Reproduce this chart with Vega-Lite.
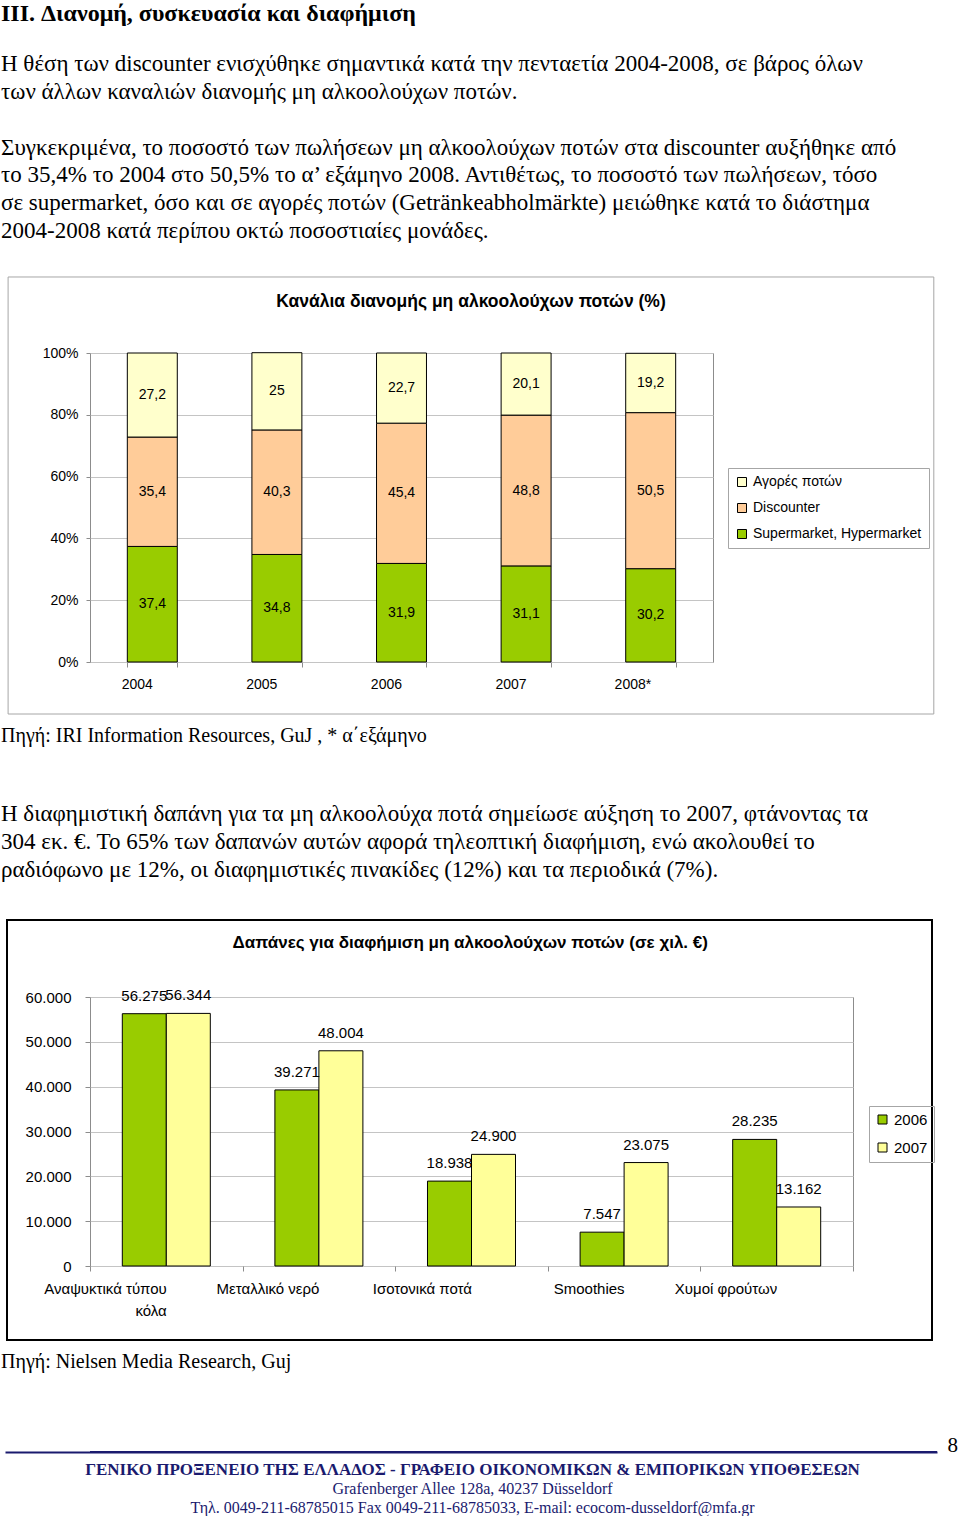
{
  "$schema": "https://vega.github.io/schema/vega-lite/v6.json",
  "background": "white",
  "padding": {"left": 1, "top": 2, "right": 0, "bottom": 0},
  "columns": 1,
  "spacing": 10,
  "resolve": {"scale": {"color": "independent", "x": "independent", "y": "independent", "xOffset": "independent"}, "legend": {"color": "independent"}},
  "config": {
    "locale": {"number": {"decimal": ",", "thousands": ".", "grouping": [3], "currency": ["", " €"]}},
    "font": "Liberation Sans",
    "view": {"stroke": "#8c8c8c"},
    "axis": {"labelFont": "Liberation Sans", "labelColor": "black", "tickColor": "#8c8c8c", "domainColor": "#8c8c8c", "gridColor": "#c4c4c4"},
    "title": {"color": "black", "subtitleColor": "black"}
  },
  "concat": [
    {
      "width": 853, "height": 22,
      "view": {"stroke": null},
      "data": {"values": []},
      "mark": "point",
      "title": {
        "text": "III. Διανομή, συσκευασία και διαφήμιση",
        "subtitle": [
          "Η θέση των discounter ενισχύθηκε σημαντικά κατά την πενταετία 2004-2008, σε βάρος όλων",
          "των άλλων καναλιών διανομής μη αλκοολούχων ποτών."
        ],
        "anchor": "start", "frame": "group", "offset": 0, "dx": -89,
        "font": "Liberation Serif", "fontSize": 24, "fontWeight": "bold",
        "subtitleFont": "Liberation Serif", "subtitleFontSize": 23, "subtitleLineHeight": 27.8, "subtitlePadding": 27
      }
    },
    {
      "width": 853, "height": 22,
      "view": {"stroke": null},
      "data": {"values": []},
      "mark": "point",
      "title": {
        "text": "Συγκεκριμένα, το ποσοστό των πωλήσεων μη αλκοολούχων ποτών στα discounter αυξήθηκε από",
        "subtitle": [
          "το 35,4% το 2004 στο 50,5% το α’ εξάμηνο 2008. Αντιθέτως, το ποσοστό των πωλήσεων, τόσο",
          "σε supermarket, όσο και σε αγορές ποτών (Getränkeabholmärkte) μειώθηκε κατά το διάστημα",
          "2004-2008 κατά περίπου οκτώ ποσοστιαίες μονάδες."
        ],
        "anchor": "start", "frame": "group", "offset": 0, "dx": -89,
        "font": "Liberation Serif", "fontSize": 23, "fontWeight": "normal",
        "subtitleFont": "Liberation Serif", "subtitleFontSize": 23, "subtitleLineHeight": 27.8, "subtitlePadding": 4.8
      }
    },
    {
      "width": 623, "height": 309,
      "title": {"text": "Κανάλια διανομής μη αλκοολούχων ποτών (%)", "font": "Liberation Sans", "fontSize": 17.5, "fontWeight": "bold", "offset": -34, "anchor": "middle", "frame": "bounds"},
      "data": {"values": [
        {"year": "2004", "channel": "Supermarket, Hypermarket", "share": 37.4},
        {"year": "2004", "channel": "Discounter", "share": 35.4},
        {"year": "2004", "channel": "Αγορές ποτών", "share": 27.2},
        {"year": "2005", "channel": "Supermarket, Hypermarket", "share": 34.8},
        {"year": "2005", "channel": "Discounter", "share": 40.3},
        {"year": "2005", "channel": "Αγορές ποτών", "share": 25},
        {"year": "2006", "channel": "Supermarket, Hypermarket", "share": 31.9},
        {"year": "2006", "channel": "Discounter", "share": 45.4},
        {"year": "2006", "channel": "Αγορές ποτών", "share": 22.7},
        {"year": "2007", "channel": "Supermarket, Hypermarket", "share": 31.1},
        {"year": "2007", "channel": "Discounter", "share": 48.8},
        {"year": "2007", "channel": "Αγορές ποτών", "share": 20.1},
        {"year": "2008*", "channel": "Supermarket, Hypermarket", "share": 30.2},
        {"year": "2008*", "channel": "Discounter", "share": 50.5},
        {"year": "2008*", "channel": "Αγορές ποτών", "share": 19.2}
      ]},
      "layer": [
        {
          "data": {"values": [{}]},
          "mark": {"type": "rect", "fill": "transparent", "stroke": "#a6a6a6", "strokeWidth": 1},
          "encoding": {
            "x": {"datum": "2004", "type": "ordinal", "bandPosition": -2.386, "scale": {"domain": ["2004", "2005", "2006", "2007", "2008*"]}},
            "x2": {"datum": "2008*", "bandPosition": 6.166},
            "y": {"datum": -16.83, "type": "quantitative", "scale": {"domain": [0, 100], "nice": false}},
            "y2": {"datum": 124.6}
          }
        },
        {
          "transform": [{"stack": "share", "groupby": ["year"], "as": ["lo", "hi"]}],
          "mark": {"type": "bar", "stroke": "black", "strokeWidth": 1},
          "encoding": {
            "x": {"field": "year", "type": "ordinal",
              "scale": {"domain": ["2004", "2005", "2006", "2007", "2008*"], "paddingInner": 0.599, "paddingOuter": 0.2995},
              "axis": {"title": null, "labelAngle": 0, "tickBand": "extent", "tickSize": 5, "labelPadding": 17, "labelFontSize": 14, "domain": false}},
            "y": {"field": "lo", "type": "quantitative",
              "scale": {"domain": [0, 100], "nice": false},
              "axis": {"values": [0, 10, 20, 30, 40, 50, 60, 70, 80, 90, 100], "labelExpr": "datum.value + '%'", "grid": true, "domain": false, "tickSize": 4, "labelPadding": 8, "labelFontSize": 14, "title": null}},
            "y2": {"field": "hi"},
            "color": {"field": "channel", "type": "nominal",
              "scale": {"domain": ["Αγορές ποτών", "Discounter", "Supermarket, Hypermarket"], "range": ["#FFFFCC", "#FFCC99", "#99CC00"]},
              "legend": {"orient": "none", "legendX": 638, "legendY": 115, "title": null, "strokeColor": "#a6a6a6", "padding": 7, "symbolType": "square", "symbolSize": 81, "symbolStrokeColor": "black", "symbolStrokeWidth": 1, "labelFontSize": 14, "labelFont": "Liberation Sans", "labelLimit": 300, "rowPadding": 12, "labelOffset": 4}}
          }
        },
        {
          "transform": [
            {"stack": "share", "groupby": ["year"], "as": ["lo", "hi"]},
            {"fold": ["lo", "hi"], "as": ["edge", "pos"]},
            {"aggregate": [{"op": "mean", "field": "pos", "as": "mid"}, {"op": "max", "field": "share", "as": "share"}], "groupby": ["year", "channel"]}
          ],
          "mark": {"type": "text", "fontSize": 14, "font": "Liberation Sans", "color": "black"},
          "encoding": {
            "x": {"field": "year", "type": "ordinal"},
            "y": {"field": "mid", "type": "quantitative", "scale": {"domain": [0, 100], "nice": false}},
            "text": {"field": "share", "type": "quantitative", "format": ".1~f"}
          }
        }
      ]
    },
    {
      "width": 853, "height": 26,
      "view": {"stroke": null},
      "data": {"values": []},
      "mark": "point",
      "title": {
        "text": "Πηγή: IRI Information Resources, GuJ , * α΄εξάμηνο",
        "subtitle": [
          "Η διαφημιστική δαπάνη για τα μη αλκοολούχα ποτά σημείωσε αύξηση το 2007, φτάνοντας τα",
          "304 εκ. €. Το 65% των δαπανών αυτών αφορά τηλεοπτική διαφήμιση, ενώ ακολουθεί το",
          "ραδιόφωνο με 12%, οι διαφημιστικές πινακίδες (12%) και τα περιοδικά (7%)."
        ],
        "anchor": "start", "frame": "group", "offset": 0, "dx": -89,
        "font": "Liberation Serif", "fontSize": 20, "fontWeight": "normal",
        "subtitleFont": "Liberation Serif", "subtitleFontSize": 23, "subtitleLineHeight": 28, "subtitlePadding": 57
      }
    },
    {
      "width": 763, "height": 269,
      "title": {"text": "Δαπάνες για διαφήμιση μη αλκοολούχων ποτών (σε χιλ. €)", "font": "Liberation Sans", "fontSize": 17, "fontWeight": "bold", "offset": -33, "anchor": "middle", "frame": "bounds"},
      "data": {"values": [
        {"category": "Αναψυκτικά τύπου κόλα", "year": "2006", "spend": 56275},
        {"category": "Αναψυκτικά τύπου κόλα", "year": "2007", "spend": 56344},
        {"category": "Μεταλλικό νερό", "year": "2006", "spend": 39271},
        {"category": "Μεταλλικό νερό", "year": "2007", "spend": 48004},
        {"category": "Ισοτονικά ποτά", "year": "2006", "spend": 18938},
        {"category": "Ισοτονικά ποτά", "year": "2007", "spend": 24900},
        {"category": "Smoothies", "year": "2006", "spend": 7547},
        {"category": "Smoothies", "year": "2007", "spend": 23075},
        {"category": "Χυμοί φρούτων", "year": "2006", "spend": 28235},
        {"category": "Χυμοί φρούτων", "year": "2007", "spend": 13162}
      ]},
      "layer": [
        {
          "data": {"values": [{}]},
          "mark": {"type": "rect", "fill": "transparent", "stroke": "black", "strokeWidth": 2},
          "encoding": {
            "x": {"datum": "Αναψυκτικά τύπου κόλα", "type": "nominal", "bandPosition": -0.5439, "scale": {"domain": ["Αναψυκτικά τύπου κόλα", "Μεταλλικό νερό", "Ισοτονικά ποτά", "Smoothies", "Χυμοί φρούτων"]}},
            "x2": {"datum": "Χυμοί φρούτων", "bandPosition": 1.5177},
            "y": {"datum": -16506, "type": "quantitative", "scale": {"domain": [0, 60000], "nice": false}},
            "y2": {"datum": 77175}
          }
        },
        {
          "mark": {"type": "bar", "stroke": "black", "strokeWidth": 1},
          "encoding": {
            "x": {"field": "category", "type": "nominal",
              "scale": {"domain": ["Αναψυκτικά τύπου κόλα", "Μεταλλικό νερό", "Ισοτονικά ποτά", "Smoothies", "Χυμοί φρούτων"], "paddingInner": 0, "paddingOuter": 0},
              "axis": {"title": null, "labelAngle": 0, "tickBand": "extent", "tickSize": 5, "labelPadding": 17, "labelFontSize": 15, "labelLineHeight": 22, "domain": false,
                "labelExpr": "datum.value == 'Αναψυκτικά τύπου κόλα' ? ['Αναψυκτικά τύπου', 'κόλα'] : datum.label"}},
            "xOffset": {"field": "year", "type": "nominal", "scale": {"domain": ["2006", "2007"], "paddingInner": 0, "paddingOuter": 0.734}},
            "y": {"field": "spend", "type": "quantitative",
              "scale": {"domain": [0, 60000], "nice": false},
              "axis": {"values": [0, 10000, 20000, 30000, 40000, 50000, 60000], "format": ",d", "grid": true, "domain": false, "tickSize": 5, "labelPadding": 14, "labelFontSize": 15, "title": null}},
            "color": {"field": "year", "type": "nominal",
              "scale": {"domain": ["2006", "2007"], "range": ["#99CC00", "#FFFF99"]},
              "legend": {"orient": "none", "legendX": 779, "legendY": 109, "title": null, "strokeColor": "#a6a6a6", "padding": 6, "symbolType": "square", "symbolSize": 81, "symbolStrokeColor": "black", "symbolStrokeWidth": 1, "labelFontSize": 15, "labelFont": "Liberation Sans", "rowPadding": 12, "labelOffset": 4}}
          }
        },
        {
          "mark": {"type": "text", "fontSize": 15, "font": "Liberation Sans", "color": "black", "baseline": "bottom", "dy": -10},
          "encoding": {
            "x": {"field": "category", "type": "nominal"},
            "xOffset": {"field": "year", "type": "nominal"},
            "y": {"field": "spend", "type": "quantitative", "scale": {"domain": [0, 60000], "nice": false}},
            "text": {"field": "spend", "type": "quantitative", "format": ",d"}
          }
        }
      ]
    },
    {
      "width": 853, "height": 52,
      "view": {"stroke": null},
      "data": {"values": []},
      "mark": "point",
      "title": {
        "text": "Πηγή: Nielsen Media Research, Guj",
        "anchor": "start", "frame": "group", "offset": 0, "dx": -89,
        "font": "Liberation Serif", "fontSize": 20, "fontWeight": "normal"
      }
    },
    {
      "width": 847, "height": 2,
      "view": {"stroke": null},
      "data": {"values": [{"page": "8"}]},
      "mark": {"type": "rule", "color": "#1a1a6e", "strokeWidth": 2},
      "encoding": {
        "y": {"field": "page", "type": "nominal", "axis": {"orient": "right", "title": null, "domain": false, "ticks": true, "tickSize": -932, "tickWidth": 2, "tickColor": "#1a1a6e", "grid": false, "labelFont": "Liberation Serif", "labelFontSize": 21, "labelPadding": 942, "labelBaseline": "alphabetic", "labelColor": "black"}}
      },
      "title": {
        "text": "ΓΕΝΙΚΟ ΠΡΟΞΕΝΕΙΟ ΤΗΣ ΕΛΛΑΔΟΣ - ΓΡΑΦΕΙΟ ΟΙΚΟΝΟΜΙΚΩΝ &  ΕΜΠΟΡΙΚΩΝ ΥΠΟΘΕΣΕΩΝ",
        "subtitle": ["Grafenberger Allee 128a, 40237 Düsseldorf", "Τηλ. 0049-211-68785015  Fax 0049-211-68785033, E-mail: ecocom-dusseldorf@mfa.gr"],
        "orient": "bottom", "anchor": "middle", "frame": "group", "offset": 6, "dx": -41,
        "font": "Liberation Serif", "fontSize": 17, "fontWeight": "bold", "color": "#1a1a6e",
        "subtitleFont": "Liberation Serif", "subtitleFontSize": 16, "subtitleColor": "#1a1a6e", "subtitleLineHeight": 19, "subtitlePadding": 2
      }
    }
  ]
}
